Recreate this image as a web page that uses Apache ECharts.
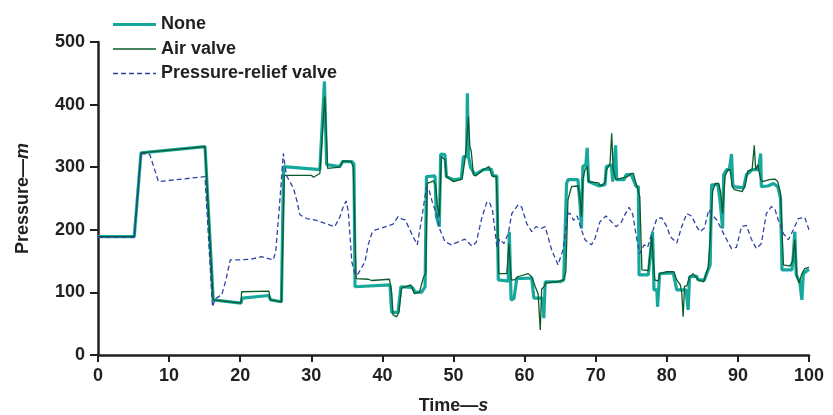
<!DOCTYPE html>
<html>
<head>
<meta charset="utf-8">
<script src="https://cdn.jsdelivr.net/npm/echarts@6/dist/echarts.min.js"></script>
<style>html,body{margin:0;padding:0;background:#fff}#c{width:833px;height:415px}</style>
</head>
<body>
<div id="c"></div>
<script>
const xTicks = [0,10,20,30,40,50,60,70,80,90,100];
const yTicks = [0,100,200,300,400,500];
const seriesNames = ['None','Air valve','Pressure-relief valve'];

const noneData = [
[0,189],[5.1,189],[6.05,323],[15.05,333],[16.2,88],[20.1,83],[20.3,91],[24.0,95],[24.3,88],[25.8,85],
[26.1,301],[31.2,296],[31.85,437],[32.15,304],[34.0,301],[34.4,309],[35.7,309],[36.0,305],[36.15,109],
[41.07,112],[41.3,68],[42.2,68],[42.6,109],[44.2,108],[44.6,101],[45.5,100],[46.0,109],[46.2,285],
[47.4,286],[47.6,221],[48.0,205],[48.2,321],[48.8,320],[49.0,285],[50.0,280],[51.1,282],[51.4,317],
[51.85,317],[51.95,418],[52.1,318],[52.4,300],[53.0,288],[54.2,296],[55.3,297],[55.6,286],[56.1,286],
[56.3,120],[57.7,118],[57.85,197],[58.1,88],[58.5,90],[58.9,122],[61.0,123],[61.3,91],[62.5,91],
[62.7,59],[62.9,117],[65.0,117],[65.5,120],[65.9,274],[66.1,280],[67.5,280],[67.8,240],[68.0,202],
[68.2,302],[68.6,302],[68.8,331],[69.0,277],[70.5,270],[71.3,272],[71.5,301],[72.2,304],[72.4,277],
[72.6,277],[72.8,335],[72.95,280],[74.0,280],[74.3,288],[75.0,288],[75.7,269],[76.0,269],[76.1,128],
[77.4,128],[77.6,152],[78.0,197],[78.2,104],[78.6,104],[78.7,77],[79.0,130],[80.9,131],[81.4,104],
[82.7,104],[83.0,72],[83.2,125],[84.2,126],[84.4,120],[85.3,120],[85.6,130],[86.1,144],[86.3,272],
[87.2,272],[87.5,245],[87.85,202],[88.0,288],[88.4,296],[88.8,296],[89.1,321],[89.3,269],[90.8,267],
[91.2,288],[92.0,296],[92.9,296],[93.2,322],[93.3,269],[94.2,270],[95.0,274],[95.6,269],[96.0,250],
[96.2,136],[97.6,136],[97.8,160],[98.0,197],[98.2,128],[98.7,117],[99.0,88],[99.2,130],[100,137]
];

const airValveData = [
[0,189],[5.1,189],[6.05,323],[15.05,333],[16.2,88],[20.1,83],[20.2,101],[24.05,102],[24.2,88],[25.8,85],
[26.2,287],[30.0,287],[30.3,284],[31.2,290],[31.9,413],[32.3,298],[34.0,300],[34.5,310],[35.6,309],
[35.9,300],[36.3,122],[38.0,121],[38.5,119],[41.0,121],[41.3,100],[41.5,64],[42.0,61],[42.3,68],
[42.7,107],[44.0,112],[44.5,98],[45.2,100],[45.8,125],[46.1,130],[46.3,274],[47.2,278],[47.5,270],
[47.7,242],[48.0,221],[48.3,317],[48.8,312],[49.0,285],[50.0,277],[51.2,281],[51.6,311],[51.8,333],
[52.1,381],[52.3,333],[52.5,325],[52.8,288],[53.1,286],[54.2,296],[55.0,301],[55.4,286],[56.0,285],
[56.2,226],[56.35,130],[57.5,130],[57.8,178],[58.1,120],[58.6,120],[59.0,125],[60.5,130],[61.0,125],
[61.5,109],[61.9,98],[62.2,40],[62.4,105],[62.8,110],[63.0,115],[64.5,117],[65.5,120],[65.8,133],
[66.1,248],[66.6,269],[67.5,270],[67.8,250],[68.0,221],[68.2,280],[68.5,296],[68.8,301],[69.0,277],
[70.4,275],[70.7,270],[71.3,275],[71.5,296],[72.0,304],[72.25,354],[72.45,298],[72.8,280],[73.0,280],
[74.5,285],[75.0,290],[75.3,290],[75.6,277],[76.2,253],[76.5,136],[77.4,135],[77.9,189],[78.1,150],
[78.3,120],[78.8,118],[79.0,130],[80.0,133],[81.0,133],[81.4,120],[81.9,112],[82.1,100],[82.3,61],
[82.5,110],[82.8,110],[83.2,125],[83.7,130],[84.4,120],[85.2,117],[85.6,133],[85.8,138],[86.1,186],
[86.45,261],[86.8,274],[87.3,274],[87.6,258],[87.85,226],[88.2,286],[88.6,296],[88.9,296],[89.2,270],
[89.5,264],[90.6,261],[91.0,270],[91.4,294],[92.0,296],[92.3,335],[92.5,296],[92.8,304],[93.2,280],
[93.5,277],[94.4,280],[95.2,281],[95.6,277],[96.0,258],[96.4,144],[97.3,142],[97.7,150],[98.0,184],
[98.3,125],[98.6,115],[99.0,130],[99.4,138],[100,140]
];

const reliefValveData = [
[0,188],[5.1,188],[6.05,322],[7.3,320],[8.5,277],[15.05,285],[16.1,77],[16.5,90],[17.4,96],[18.0,120],
[18.6,152],[20.0,152],[21.5,153],[23.0,157],[24.0,154],[24.65,152],[25.0,165],[25.6,250],[26.06,322],
[26.5,287],[27.5,266],[28.0,245],[28.4,224],[29.35,218],[30.76,215],[32.0,210],[33.3,205],[34.0,220],
[34.5,237],[34.9,246],[35.2,230],[35.7,149],[36.15,128],[36.6,130],[37.55,149],[38.0,176],[38.5,194],
[39.0,200],[39.7,202],[41.5,209],[42.2,221],[42.6,218],[43.2,216],[44.1,194],[44.9,176],[45.5,216],
[46.2,269],[46.6,262],[47.0,245],[47.6,226],[48.1,200],[48.8,181],[49.7,176],[50.5,180],[51.6,185],
[52.6,174],[53.2,180],[53.96,218],[54.7,245],[55.1,243],[55.5,230],[56.1,173],[56.5,185],[57.1,178],
[57.7,194],[58.2,226],[59.1,240],[59.6,236],[60.3,210],[61.0,197],[61.6,205],[62.3,202],[62.9,205],
[63.8,168],[64.7,144],[65.4,168],[66.1,226],[66.4,226],[66.9,215],[67.4,222],[68.0,200],[68.5,184],
[69.4,176],[69.9,186],[70.6,213],[71.45,222],[72.2,213],[72.85,205],[73.6,212],[74.0,222],[74.7,236],
[75.2,225],[75.8,184],[76.2,162],[76.8,176],[77.3,172],[77.9,194],[78.6,218],[79.3,219],[80.0,205],
[80.5,189],[81.4,179],[82.1,205],[82.8,226],[83.5,222],[84.2,205],[84.7,197],[85.3,203],[85.9,232],
[86.5,222],[87.0,216],[87.5,205],[88.2,189],[89.1,170],[89.8,172],[90.5,205],[91.2,207],[91.9,185],
[92.6,170],[93.3,178],[94.0,226],[94.7,237],[95.2,233],[95.7,215],[96.4,194],[97.1,184],[97.8,200],
[98.5,218],[99.4,220],[100,200]
];

const ink = '#231f20';
const font = 'Liberation Sans';
const colors = ['#17a89d', '#0a5a2c', '#2f44a4'];
const chart = echarts.init(document.getElementById('c'), null, {renderer: 'canvas'});

function dashPath(total, dash, gap, h) {
  let p = 'path://';
  for (let x = 0; x < total; x += dash + gap) {
    const w = Math.min(dash, total - x);
    p += 'M' + x + ',0H' + (x + w) + 'V' + h + 'H' + x + 'Z';
  }
  return p;
}
const legendIcons = [
  'path://M0,0H43V3.2H0Z',
  'path://M0,0H43V1.4H0Z',
  dashPath(43, 5, 3, 1.4)
];

const axisLabelStyle = {color: ink, fontFamily: font, fontWeight: 'bold', fontSize: 18};
const nameRich = {
  a: {color: ink, fontFamily: font, fontWeight: 'bold', fontSize: 18},
  b: {color: ink, fontFamily: font, fontWeight: 'bold', fontStyle: 'italic', fontSize: 18}
};

chart.setOption({
  animation: false,
  backgroundColor: '#fff',
  grid: {left: 98, right: 24, top: 42, bottom: 60, containLabel: false, outerBoundsMode: 'none'},
  legend: {
    orient: 'vertical', left: 113, top: 15.5, padding: 0, itemWidth: 43, itemHeight: 4, itemGap: 6.5,
    symbolKeepAspect: true,
    data: seriesNames.map((n, i) => ({name: n, icon: legendIcons[i], itemStyle: {color: colors[i]}})),
    textStyle: Object.assign({}, axisLabelStyle, {lineHeight: 18, padding: [0,0,0,0]})
  },
  xAxis: {
    type: 'value', min: xTicks[0], max: xTicks[xTicks.length-1], interval: 10,
    axisLine: {show: true, lineStyle: {color: ink, width: 2.5}},
    axisTick: {show: true, length: 7, lineStyle: {color: ink, width: 2}},
    splitLine: {show: false},
    axisLabel: Object.assign({margin: 12}, axisLabelStyle),
    name: '{a|Time—}{b|s}', nameLocation: 'middle', nameGap: 42,
    nameTextStyle: {rich: nameRich}
  },
  yAxis: {
    type: 'value', min: yTicks[0], max: yTicks[yTicks.length-1], interval: 100,
    axisLine: {show: true, lineStyle: {color: ink, width: 2.5}},
    axisTick: {show: true, length: 8, lineStyle: {color: ink, width: 2}},
    splitLine: {show: false},
    axisLabel: Object.assign({margin: 13}, axisLabelStyle),
    name: '{a|Pressure—}{b|m}', nameLocation: 'middle', nameGap: 66,
    nameTextStyle: {rich: nameRich}
  },
  series: [
    {name: seriesNames[0], type: 'line', data: noneData, showSymbol: false, symbol: 'none',
     lineStyle: {color: colors[0], width: 3.2}, itemStyle: {color: colors[0]}, z: 2},
    {name: seriesNames[1], type: 'line', data: airValveData, showSymbol: false, symbol: 'none',
     lineStyle: {color: colors[1], width: 1.3}, itemStyle: {color: colors[1]}, z: 3},
    {name: seriesNames[2], type: 'line', data: reliefValveData, showSymbol: false, symbol: 'none',
     lineStyle: {color: colors[2], width: 1.3, type: [5,3]}, itemStyle: {color: colors[2]}, z: 4}
  ]
});
</script>
</body>
</html>
